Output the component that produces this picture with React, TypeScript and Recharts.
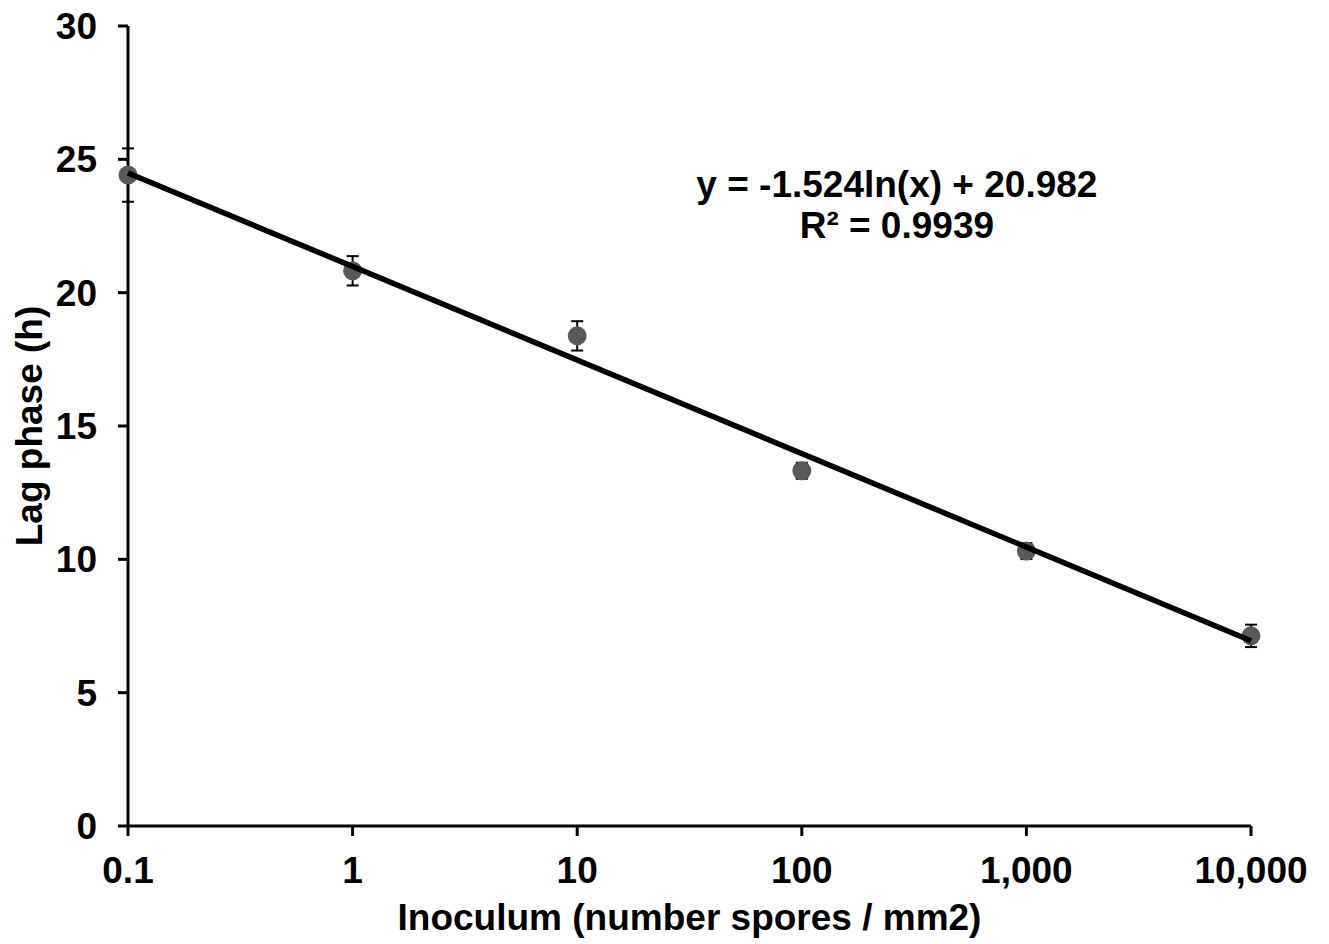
import React from 'react';
import { ScatterChart, Scatter, XAxis, YAxis, ErrorBar, ReferenceDot } from 'recharts';

const inoculum = [0.1, 1, 10, 100, 1000, 10000];
const lagPhase = [24.41, 20.82, 18.38, 13.32, 10.31, 7.13];
const lagError = [1.0, 0.55, 0.55, 0.3, 0.3, 0.42];
const trendX = [0.1, 10000];
const trendY = [24.49, 6.95];
const xTicks = [0.1, 1, 10, 100, 1000, 10000];
const xTickLabels = ['0.1', '1', '10', '100', '1,000', '10,000'];
const yTicks = [0, 5, 10, 15, 20, 25, 30];
const equationLines = ['y = -1.524ln(x) + 20.982', 'R² = 0.9939'];
const equationAnchorX = 265;
const equationAnchorY = 23.6;

const points = inoculum.map((x, i) => ({ x, y: lagPhase[i], err: lagError[i] }));
const trend = trendX.map((x, i) => ({ x, y: trendY[i] }));

const FONT = 'Arial, "Liberation Sans", Helvetica, sans-serif';
const FS = 37;
const tickStyle = { fill: '#000', fontSize: FS, fontWeight: 'bold', fontFamily: FONT };

const fmtX = (v: number) => {
  const i = xTicks.findIndex((t) => Math.abs(t - v) < 1e-9);
  return i >= 0 ? xTickLabels[i] : String(v);
};

const Dot = (props: any) => {
  const { cx, cy } = props;
  if (cx == null || cy == null) return null;
  return <circle cx={cx} cy={cy} r={9.5} fill="#595959" />;
};

const NoShape = () => <g />;

const XTitle = (props: any) => {
  const vb = props.viewBox || {};
  return (
    <text
      x={vb.x + vb.width / 2}
      y={vb.y + 104}
      textAnchor="middle"
      fill="#000"
      fontSize={FS}
      fontWeight="bold"
      fontFamily={FONT}
    >
      Inoculum (number spores / mm2)
    </text>
  );
};

const YTitle = (props: any) => {
  const vb = props.viewBox || {};
  const cx = vb.x + 29;
  const cy = vb.y + vb.height / 2;
  return (
    <text
      x={cx}
      y={cy}
      transform={`rotate(-90, ${cx}, ${cy})`}
      textAnchor="middle"
      dominantBaseline="central"
      fill="#000"
      fontSize={FS}
      fontWeight="bold"
      fontFamily={FONT}
    >
      Lag phase (h)
    </text>
  );
};

const Equation = (props: any) => {
  const { cx, cy } = props;
  return (
    <g>
      {equationLines.map((l, i) => (
        <text
          key={i}
          x={cx}
          y={cy + i * 41}
          textAnchor="middle"
          fill="#000"
          fontSize={FS}
          fontWeight="bold"
          fontFamily={FONT}
        >
          {l}
        </text>
      ))}
    </g>
  );
};

export default function App() {
  return (
    <div style={{ position: 'absolute', left: 0, top: 0, width: 1329, height: 944, background: '#fff' }}>
      <ScatterChart width={1329} height={944} margin={{ top: 26, right: 78, bottom: 0, left: 0 }}>
        <XAxis
          dataKey="x"
          type="number"
          scale="log"
          domain={[0.1, 10000]}
          ticks={xTicks}
          interval={0}
          tickFormatter={fmtX}
          height={118}
          tickSize={10}
          tickMargin={21}
          axisLine={{ stroke: '#000', strokeWidth: 3 }}
          tickLine={{ stroke: '#000', strokeWidth: 3 }}
          tick={tickStyle}
          label={<XTitle />}
        />
        <YAxis
          dataKey="y"
          type="number"
          domain={[0, 30]}
          ticks={yTicks}
          interval={0}
          width={128}
          tickSize={10}
          tickMargin={21}
          axisLine={{ stroke: '#000', strokeWidth: 3 }}
          tickLine={{ stroke: '#000', strokeWidth: 3 }}
          tick={tickStyle}
          label={<YTitle />}
        />
        <Scatter data={points} shape={<NoShape />} isAnimationActive={false} legendType="none">
          <ErrorBar dataKey="err" direction="y" width={6} stroke="#000" strokeWidth={2} />
        </Scatter>
        <Scatter data={points} shape={<Dot />} isAnimationActive={false} legendType="none" />
        <Scatter
          data={trend}
          shape={<NoShape />}
          line={{ stroke: '#000', strokeWidth: 5.5 }}
          isAnimationActive={false}
          legendType="none"
        />
        <ReferenceDot x={equationAnchorX} y={equationAnchorY} r={0} shape={<Equation />} />
      </ScatterChart>
    </div>
  );
}
